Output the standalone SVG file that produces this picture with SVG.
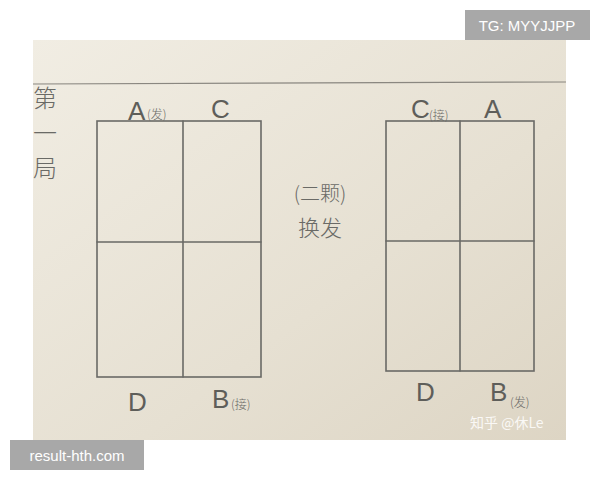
<svg xmlns="http://www.w3.org/2000/svg" width="600" height="480" viewBox="0 0 600 480">
<defs>
<linearGradient id="paper" x1="0" y1="0" x2="1" y2="1">
<stop offset="0" stop-color="#f1ede3"/>
<stop offset="0.6" stop-color="#e6e0d2"/>
<stop offset="1" stop-color="#ddd5c4"/>
</linearGradient>
<style>
.pen{fill:none;stroke:#6a6a66;stroke-width:1.6;stroke-linecap:round}
.rule{fill:none;stroke:#8a8780;stroke-width:1.2}
.hw{font-family:"Liberation Sans","Noto Sans CJK SC",sans-serif;fill:#5e5e5a;font-weight:300}
.big{font-size:26px}
.small{font-size:12px}
.cjk{font-family:"Noto Sans CJK SC",sans-serif;fill:#6a6a66;font-weight:300}
.wm{font-family:"Liberation Sans",sans-serif;font-size:15px;fill:#ffffff}
</style>
</defs>
<rect width="600" height="480" fill="#ffffff"/>
<rect x="33" y="40" width="533" height="400" fill="url(#paper)"/>
<line class="rule" x1="33" y1="84" x2="566" y2="82"/>
<g id="title">
<text class="cjk" x="33" y="107" font-size="24">第</text>
<text class="cjk" x="33" y="142" font-size="24">一</text>
<text class="cjk" x="33" y="177" font-size="24">局</text>
</g>
<g id="court-left">
<rect class="pen" x="97" y="121" width="164" height="256"/>
<line class="pen" x1="183" y1="121" x2="183" y2="377"/>
<line class="pen" x1="97" y1="242" x2="261" y2="242"/>
</g>
<g id="court-right">
<rect class="pen" x="386" y="121" width="148" height="250"/>
<line class="pen" x1="460" y1="121" x2="460" y2="371"/>
<line class="pen" x1="386" y1="241" x2="534" y2="241"/>
</g>
<g id="labels-left">
<text class="hw big" x="128" y="120">A</text>
<text class="cjk small" x="147" y="119">(发)</text>
<text class="hw big" x="211" y="118">C</text>
<text class="hw big" x="128" y="411">D</text>
<text class="hw big" x="212" y="408">B</text>
<text class="cjk small" x="231" y="409">(接)</text>
</g>
<g id="center">
<text class="cjk" x="320" y="201" font-size="20" text-anchor="middle">(二颗)</text>
<text class="cjk" x="320" y="236" font-size="22" text-anchor="middle">换发</text>
</g>
<g id="labels-right">
<text class="hw big" x="411" y="118">C</text>
<text class="cjk small" x="429" y="120">(接)</text>
<text class="hw big" x="484" y="118">A</text>
<text class="hw big" x="416" y="401">D</text>
<text class="hw big" x="490" y="401">B</text>
<text class="cjk small" x="510" y="407">(发)</text>
</g>
<text x="470" y="428" font-family="Noto Sans CJK SC,sans-serif" font-size="14" fill="#ffffff" fill-opacity="0.85">知乎 @休Le</text>
<g id="wm-top">
<rect x="465" y="10" width="125" height="30" fill="#a8a8a8"/>
<text class="wm" x="527" y="31" text-anchor="middle">TG: MYYJJPP</text>
</g>
<g id="wm-bottom">
<rect x="10" y="440" width="134" height="30" fill="#a8a8a8"/>
<text class="wm" x="77" y="461" text-anchor="middle">result-hth.com</text>
</g>
</svg>
